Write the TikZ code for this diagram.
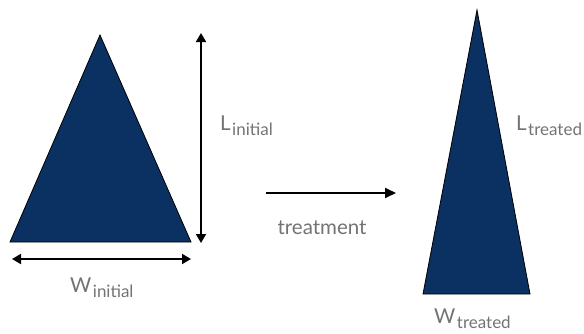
\documentclass[tikz,border=0pt]{standalone}
\usepackage{fontspec}
\setmainfont{Lato}
\usetikzlibrary{arrows.meta}
\definecolor{navy}{RGB}{11,48,98}
\definecolor{lbl}{RGB}{115,115,115}
\newcommand{\subl}[1]{\hspace{1.5pt}\raisebox{-5.5pt}{\fontsize{17}{19}\selectfont #1}}
\begin{document}
\begin{tikzpicture}[x=1pt,y=-1pt,
  tri/.style={fill=navy,draw=black,line width=0.8pt,line join=miter},
  dim/.style={line width=1.8pt,{Triangle[length=9pt,width=10pt]}-{Triangle[length=9pt,width=10pt]}},
  fwd/.style={line width=1.8pt,-{Triangle[length=11pt,width=10pt]}},
  lab/.style={text=lbl,font=\fontsize{20.5}{24}\selectfont,inner sep=0pt}]
\useasboundingbox (0,0) rectangle (584,333);
% left triangle
\coordinate (a1) at (100,35);
\coordinate (b1) at (10,242);
\coordinate (c1) at (191,242);
\draw[tri] (a1) -- (b1) -- (c1) -- cycle;
% dimension arrows
\coordinate (v1) at (201,33);
\coordinate (v2) at (201,243);
\draw[dim] (v1) -- (v2);
\coordinate (h1) at (12,259);
\coordinate (h2) at (191,259);
\draw[dim] (h1) -- (h2);
\node[lab,anchor=base west] (Li) at (220,130) {L\subl{initial}};
\node[lab,anchor=base west] (Wi) at (70,292) {W\subl{initial}};
% treatment arrow
\coordinate (t1) at (266,193);
\coordinate (t2) at (396,193);
\draw[fwd] (t1) -- (t2);
\node[lab] (tr) at (322,228) {treatment};
% right triangle
\coordinate (a2) at (477,10);
\coordinate (b2) at (423,294);
\coordinate (c2) at (530,294);
\draw[tri] (a2) -- (b2) -- (c2) -- cycle;
\node[lab,anchor=base west] (Lt) at (516,130) {L\subl{treated}};
\node[lab,anchor=base west] (Wt) at (434,323) {W\subl{treated}};
\end{tikzpicture}
\end{document}
